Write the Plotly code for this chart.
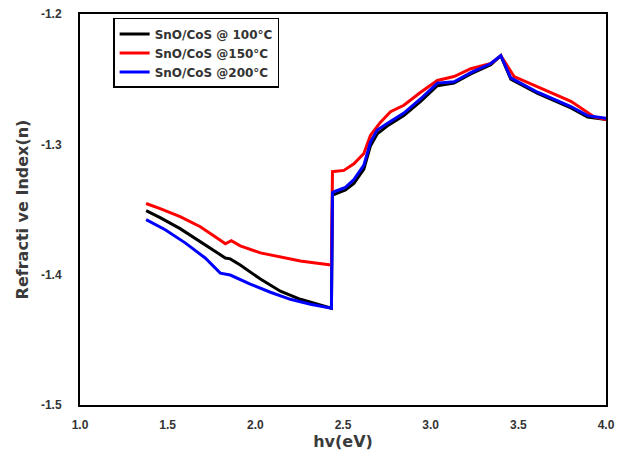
import plotly.graph_objects as go

# hv (eV) and refractive index n for each film
x_100 = [1.377, 1.457, 1.571, 1.686, 1.771, 1.829, 1.857, 1.914, 2.029, 2.143, 2.257, 2.343, 2.400, 2.434,
         2.440, 2.457, 2.514, 2.562, 2.619, 2.657, 2.695, 2.752, 2.847, 2.943, 3.038, 3.133, 3.229, 3.343,
         3.400, 3.457, 3.610, 3.800, 3.895, 4.000]
n_100 = [-1.3508, -1.3562, -1.3647, -1.3748, -1.3825, -1.3872, -1.3879, -1.3926, -1.4034, -1.4127, -1.4189,
         -1.4220, -1.4243, -1.4258,
         -1.339, -1.338, -1.335, -1.330, -1.319, -1.301, -1.292, -1.286, -1.278, -1.267, -1.255, -1.253,
         -1.246, -1.239, -1.232, -1.250, -1.261, -1.272, -1.279, -1.281]

x_150 = [1.377, 1.457, 1.571, 1.686, 1.771, 1.829, 1.863, 1.914, 2.029, 2.143, 2.257, 2.343, 2.434,
         2.440, 2.505, 2.562, 2.619, 2.657, 2.714, 2.771, 2.847, 2.943, 3.038, 3.133, 3.229, 3.343,
         3.400, 3.476, 3.610, 3.800, 3.933, 4.000]
n_150 = [-1.3454, -1.3493, -1.3555, -1.3632, -1.3709, -1.3763, -1.3740, -1.3779, -1.3833, -1.3864, -1.3895,
         -1.3910, -1.3926,
         -1.321, -1.320, -1.315, -1.307, -1.293, -1.283, -1.275, -1.270, -1.260, -1.251, -1.248, -1.242,
         -1.238, -1.232, -1.248, -1.256, -1.267, -1.279, -1.281]

x_200 = [1.377, 1.486, 1.600, 1.714, 1.800, 1.857, 1.971, 2.086, 2.200, 2.314, 2.434,
         2.440, 2.457, 2.514, 2.562, 2.619, 2.657, 2.695, 2.752, 2.847, 2.943, 3.038, 3.133, 3.229, 3.343,
         3.400, 3.457, 3.610, 3.800, 3.895, 4.000]
n_200 = [-1.3578, -1.3655, -1.3756, -1.3872, -1.3988, -1.4003, -1.4073, -1.4135, -1.4189, -1.4227, -1.4258,
         -1.337, -1.336, -1.333, -1.327, -1.316, -1.298, -1.289, -1.284, -1.276, -1.265, -1.253, -1.252,
         -1.245, -1.238, -1.232, -1.249, -1.260, -1.271, -1.278, -1.280]

labels = ["SnO/CoS @ 100°C", "SnO/CoS @150°C", "SnO/CoS @200°C"]
x_ticks = [1.0, 1.5, 2.0, 2.5, 3.0, 3.5, 4.0]
y_ticks = [-1.2, -1.3, -1.4, -1.5]

fig = go.Figure()
for xs, ys, lab, col in [(x_100, n_100, labels[0], "#000000"),
                         (x_150, n_150, labels[1], "#ff0000"),
                         (x_200, n_200, labels[2], "#0000ff")]:
    fig.add_trace(go.Scatter(x=xs, y=ys, mode="lines", name="<b>" + lab + "</b>",
                             line=dict(color=col, width=3)))

title_font = dict(family="DejaVu Sans", size=16, color="#3a3a3a")
tick_font = dict(family="Arial", size=12, color="#333333")

fig.update_layout(
    width=617, height=457,
    margin=dict(l=80, r=11, t=14, b=52),
    paper_bgcolor="white", plot_bgcolor="white",
    font=dict(family="Arial", color="#222222"),
    showlegend=True,
    legend=dict(x=0.063, y=0.99, xanchor="left", yanchor="top",
                bordercolor="#000000", borderwidth=1.5, bgcolor="white",
                font=dict(family="DejaVu Sans", size=12, color="#333333"), tracegroupgap=0,
                itemwidth=30),
    xaxis=dict(range=[1.0, 4.0], tickvals=x_ticks, ticktext=["<b>%.1f</b>" % v for v in x_ticks],
               automargin=False,
               showgrid=False, zeroline=False, showline=True, linecolor="#000000",
               linewidth=2, mirror=True, ticks="", ticklabelstandoff=8,
               tickfont=tick_font,
               title=dict(text="<b>hv(eV)</b>", font=title_font, standoff=4)),
    yaxis=dict(range=[-1.5, -1.2], tickvals=y_ticks, ticktext=["<b>%.1f</b>" % v for v in y_ticks],
               automargin=False,
               showgrid=False, zeroline=False, showline=True, linecolor="#000000",
               linewidth=2, mirror=True, ticks="", ticklabelstandoff=14,
               tickfont=tick_font,
               title=dict(text="<b>Refracti ve Index(n)</b>", font=title_font, standoff=8)),
)

fig.write_html("out.html",
               post_script="document.body.style.margin='0';document.body.style.overflow='hidden';")
